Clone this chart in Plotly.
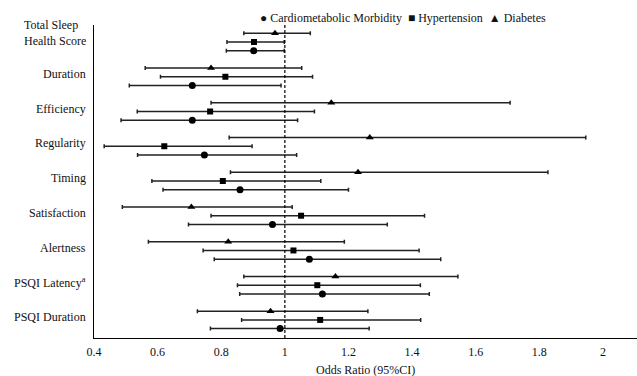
import plotly.graph_objects as go

categories = ["Total Sleep<br>Health Score", "Duration", "Efficiency", "Regularity", "Timing",
              "Satisfaction", "Alertness", "PSQI Latency<sup>a</sup>", "PSQI Duration"]

# Cardiometabolic Morbidity
cm_or = [0.902, 0.709, 0.709, 0.747, 0.859, 0.961, 1.077, 1.118, 0.985]
cm_lo = [0.816, 0.511, 0.485, 0.537, 0.617, 0.697, 0.778, 0.858, 0.766]
cm_hi = [0.998, 0.988, 1.040, 1.037, 1.200, 1.322, 1.490, 1.454, 1.265]

# Hypertension
ht_or = [0.903, 0.813, 0.765, 0.621, 0.805, 1.051, 1.027, 1.102, 1.111]
ht_lo = [0.818, 0.609, 0.536, 0.432, 0.582, 0.768, 0.743, 0.851, 0.864]
ht_hi = [0.998, 1.087, 1.093, 0.897, 1.113, 1.439, 1.422, 1.426, 1.427]

# Diabetes
db_or = [0.969, 0.768, 1.146, 1.267, 1.230, 0.706, 0.822, 1.159, 0.955]
db_lo = [0.871, 0.561, 0.768, 0.825, 0.829, 0.489, 0.571, 0.871, 0.725]
db_hi = [1.080, 1.053, 1.708, 1.946, 1.827, 1.023, 1.187, 1.544, 1.261]

x_ticks = [0.4, 0.6, 0.8, 1, 1.2, 1.4, 1.6, 1.8, 2]

FONT = "Liberation Serif"
TXT = "#111111"
FS = 12

fig = go.Figure()

series = [
    ("Diabetes", db_or, db_lo, db_hi, "triangle-up", -0.25, 7),
    ("Hypertension", ht_or, ht_lo, ht_hi, "square", 0.0, 6),
    ("Cardiometabolic Morbidity", cm_or, cm_lo, cm_hi, "circle", 0.25, 7),
]
for name, orv, lo, hi, sym, off, msize in series:
    ys = [i + off for i in range(len(categories))]
    fig.add_trace(go.Scatter(
        x=orv, y=ys, mode="markers", name=name,
        marker=dict(symbol=sym, size=msize, color="black"),
        error_x=dict(type="data", symmetric=False,
                     array=[h - o for h, o in zip(hi, orv)],
                     arrayminus=[o - l for o, l in zip(orv, lo)],
                     color="#222222", thickness=1.5, width=2),
        showlegend=False,
    ))

fig.add_shape(type="line", x0=1, x1=1, y0=0, y1=1, xref="x", yref="paper",
              line=dict(color="black", width=1.2, dash="3px,2px"))

for i, cat in enumerate(categories):
    yv = i - 0.27 if i == 0 else i - 0.08
    fig.add_annotation(x=0, xref="paper", y=yv, yref="y", text=cat, showarrow=False,
                       xanchor="right", xshift=-6, align="left",
                       font=dict(family=FONT, size=FS, color=TXT))

fig.add_annotation(x=(403 - 94) / 543, xref="paper", y=1.022, yref="paper", showarrow=False,
                   xanchor="center", yanchor="middle",
                   text="● Cardiometabolic Morbidity  ■ Hypertension  ▲ Diabetes",
                   font=dict(family=FONT, size=FS, color=TXT))

fig.add_annotation(x=(365 - 94) / 543, xref="paper", y=-(370 - 338) / 313, yref="paper",
                   showarrow=False, xanchor="center", yanchor="middle",
                   text="Odds Ratio (95%CI)", font=dict(family=FONT, size=FS, color=TXT))

fig.update_xaxes(range=[0.4, 2.107], tickvals=x_ticks, ticktext=[f"{v:g}" for v in x_ticks],
                 showline=True, linecolor="black", linewidth=1.2, showgrid=False, zeroline=False,
                 ticks="", ticklabelstandoff=2, tickfont=dict(family=FONT, size=FS, color=TXT))
fig.update_yaxes(range=[8.52, -0.49], showline=True, linecolor="black", linewidth=1.2,
                 showgrid=False, zeroline=False, showticklabels=False, ticks="")

fig.update_layout(width=637, height=376, margin=dict(l=94, r=0, t=25, b=38, autoexpand=False),
                  plot_bgcolor="white", paper_bgcolor="white", showlegend=False)

fig.write_html("out.html", config={"displayModeBar": False, "staticPlot": True},
               post_script="document.body.style.margin='0';document.body.style.overflow='hidden';")
